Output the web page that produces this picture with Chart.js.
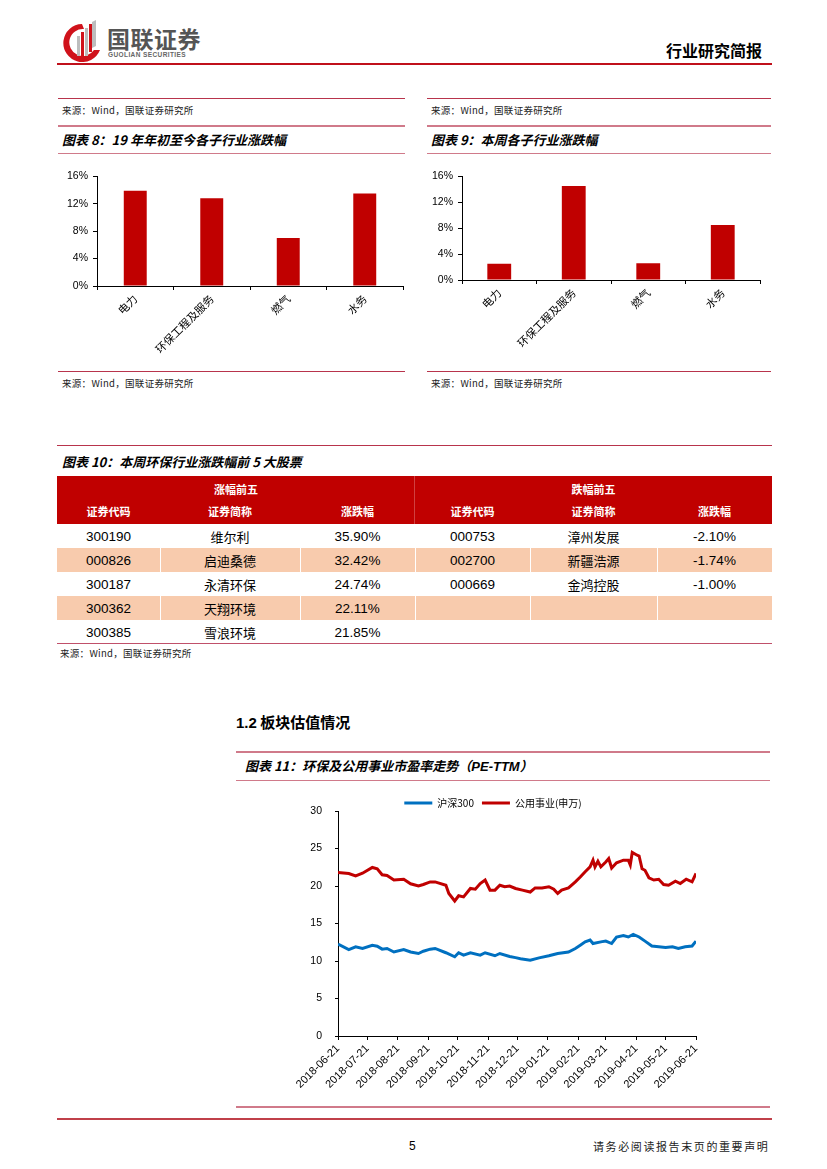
<!DOCTYPE html>
<html><head><meta charset="utf-8">
<script src="https://cdn.jsdelivr.net/npm/chart.js@4.4.0/dist/chart.umd.min.js"></script>
<style>
body{margin:0;background:#fff;}
#page{position:relative;width:827px;height:1169px;overflow:hidden;font-family:"Noto Sans CJK SC","Noto Sans",sans-serif;color:#000;background:#fff;}
.abs{position:absolute;}
.hl{position:absolute;height:0;}
.src{position:absolute;font-size:9.5px;color:#222;line-height:12px;white-space:nowrap;letter-spacing:0.3px;}
.ttl{position:absolute;font-size:13px;font-weight:bold;font-style:italic;line-height:16px;white-space:nowrap;}
canvas{position:absolute;}
.cell{position:absolute;display:flex;align-items:center;justify-content:center;white-space:nowrap;}
</style></head>
<body><div id="page">

<!-- header -->
<svg class="abs" style="left:60px;top:20px" width="46" height="42" viewBox="0 0 46 42">
  <path d="M22 4 A19 19 0 1 0 40 30 L34 30 A13.5 13.5 0 1 1 24 9 Z" fill="#d0121b"/>
  <rect x="17" y="16" width="3" height="20" fill="#bdbdbd"/>
  <rect x="21" y="12" width="3" height="24" fill="#d0121b"/>
  <rect x="25" y="8" width="3" height="28" fill="#bdbdbd"/>
  <rect x="29" y="4" width="3" height="28" fill="#d0121b"/>
  <path d="M32 2 L36 0 L36 26 L32 28 Z" fill="#bdbdbd"/>
</svg>
<div class="abs" style="left:107px;top:24px;font-size:23px;font-weight:bold;color:#555;letter-spacing:0.5px;line-height:28px;">国联证券</div>
<div class="abs" style="left:108px;top:51px;font-size:6.5px;font-weight:bold;color:#666;font-family:Arial,'Liberation Sans';letter-spacing:0.4px;line-height:8px;">GUOLIAN SECURITIES</div>
<div class="abs" style="left:666px;top:40px;font-size:16px;font-weight:bold;line-height:20px;">行业研究简报</div>
<div class="hl" style="left:57px;top:63px;width:715px;border-top:2px solid #c0101b;"></div>

<!-- top source rows -->
<div class="hl" style="left:58px;top:98px;width:347px;border-top:1.5px solid #b8344c;"></div>
<div class="src" style="left:62px;top:104px;">来源：Wind，国联证券研究所</div>
<div class="hl" style="left:427px;top:98px;width:344px;border-top:1.5px solid #b8344c;"></div>
<div class="src" style="left:431px;top:104px;">来源：Wind，国联证券研究所</div>

<!-- chart 8/9 titles -->
<div class="hl" style="left:58px;top:125px;width:347px;border-top:2px solid #d07a8a;"></div>
<div class="ttl" style="left:62px;top:132px;">图表 8：19 年年初至今各子行业涨跌幅</div>
<div class="hl" style="left:58px;top:153px;width:347px;border-top:1.5px solid #d07a8a;"></div>
<div class="hl" style="left:427px;top:125px;width:344px;border-top:2px solid #d07a8a;"></div>
<div class="ttl" style="left:431px;top:132px;">图表 9：本周各子行业涨跌幅</div>
<div class="hl" style="left:427px;top:153px;width:344px;border-top:1.5px solid #d07a8a;"></div>

<canvas id="c8" width="352" height="200" style="left:57px;top:165px;"></canvas>
<canvas id="c9" width="342" height="200" style="left:424px;top:165px;"></canvas>

<div class="hl" style="left:58px;top:371px;width:347px;border-top:1.5px solid #b8344c;"></div>
<div class="src" style="left:62px;top:377px;">来源：Wind，国联证券研究所</div>
<div class="hl" style="left:427px;top:371px;width:344px;border-top:1.5px solid #b8344c;"></div>
<div class="src" style="left:431px;top:377px;">来源：Wind，国联证券研究所</div>

<!-- table 10 -->
<div class="hl" style="left:57px;top:445px;width:715px;border-top:1.5px solid #b8344c;"></div>
<div class="ttl" style="left:62px;top:454px;">图表 10：本周环保行业涨跌幅前 5 大股票</div>
<div id="tbl"></div>
<div class="hl" style="left:57px;top:643px;width:715px;border-top:1.5px solid #c0506a;"></div>
<div class="src" style="left:60px;top:647px;">来源：Wind，国联证券研究所</div>

<!-- section 1.2 -->
<div class="abs" style="left:236px;top:712px;font-size:15px;font-weight:bold;line-height:20px;"><span style="font-family:Arial,'Liberation Sans'">1.2</span> 板块估值情况</div>
<div class="hl" style="left:236px;top:751px;width:534px;border-top:2px solid #d07a8a;"></div>
<div class="ttl" style="left:245px;top:758px;">图表 11：环保及公用事业市盈率走势（<span style="font-family:Arial,'Liberation Sans'">PE-TTM</span>）</div>
<div class="hl" style="left:236px;top:780px;width:534px;border-top:1.5px solid #d07a8a;"></div>

<canvas id="c11" width="420" height="314" style="left:290px;top:786px;"></canvas>

<div class="hl" style="left:236px;top:1106px;width:534px;border-top:2px solid #d07a8a;"></div>
<div class="hl" style="left:57px;top:1118px;width:715px;border-top:2px solid #c0404a;"></div>
<div class="abs" style="left:409px;top:1138px;font-size:12px;font-family:Arial,'Liberation Sans';line-height:16px;">5</div>
<div class="abs" style="left:593px;top:1138px;font-size:11px;letter-spacing:1.6px;line-height:16px;color:#222;">请务必阅读报告末页的重要声明</div>

</div>
<script>
// ---------- data ----------
const sectors = ['电力', '环保工程及服务', '燃气', '水务'];
const ytdChange = [13.9, 12.8, 7.0, 13.5];     // 图表8 (%)
const weekChange = [2.5, 14.5, 2.6, 8.5];      // 图表9 (%)

const gainCodes = ['300190', '000826', '300187', '300362', '300385'];
const gainNames = ['维尔利', '启迪桑德', '永清环保', '天翔环境', '雪浪环境'];
const gainPcts  = ['35.90%', '32.42%', '24.74%', '22.11%', '21.85%'];
const lossCodes = ['000753', '002700', '000669'];
const lossNames = ['漳州发展', '新疆浩源', '金鸿控股'];
const lossPcts  = ['-2.10%', '-1.74%', '-1.00%'];

const peTickLabels = ['2018-06-21','2018-07-21','2018-08-21','2018-09-21','2018-10-21','2018-11-21',
  '2018-12-21','2019-01-21','2019-02-21','2019-03-21','2019-04-21','2019-05-21','2019-06-21'];
// days since 2018-06-21
const hs300Days = [0,11,18,25,35,40,45,50,57,67,74,82,87,94,99,110,119,123,128,135,145,150,160,165,175,181,186,196,205,215,
  224,235,242,247,252,257,260,268,273,279,284,291,296,301,307,313,320,327,334,341,347,354,361,365];
const hs300PE = [12.24,11.53,11.9,11.67,12.1,11.98,11.58,11.67,11.2,11.53,11.2,11.0,11.3,11.58,11.67,11.1,10.56,11.1,10.78,11.1,
  10.78,11.1,10.7,11.0,10.6,10.45,10.3,10.1,10.42,10.7,11.0,11.2,11.67,12.1,12.55,12.8,12.33,12.55,12.65,12.33,
  13.2,13.4,13.2,13.55,13.2,12.65,12.0,11.9,11.8,11.9,11.67,11.9,12.0,12.65];
const utilDays = [0,11,18,25,35,40,45,50,57,67,74,82,87,94,99,110,113,119,123,128,135,140,145,150,155,160,165,170,175,181,
  188,196,201,208,215,220,224,228,235,242,247,252,257,260,262,265,268,273,276,279,284,291,296,298,300,305,307,310,313,317,
  322,327,332,337,344,349,355,361,365];
const utilPE = [21.8,21.67,21.35,21.7,22.47,22.3,21.5,21.4,20.8,20.9,20.3,20.0,20.2,20.55,20.55,20.1,19.0,18.0,18.7,18.55,
  19.67,19.58,20.33,20.8,19.45,19.45,20.1,19.9,20.0,19.67,19.45,19.2,19.75,19.75,19.9,19.58,19.0,19.45,19.75,20.55,
  21.2,21.9,22.55,23.45,22.55,23.3,22.55,23.2,23.67,22.4,23.1,23.45,23.45,22.8,24.47,24.1,24.0,22.3,22.1,21.1,
  20.8,20.9,20.2,20.1,20.65,20.33,20.9,20.55,21.67];

// ---------- table ----------
(function(){
  const tbl = document.getElementById('tbl');
  const cols = [[57,160],[160,300],[300,415],[415,530],[530,657],[657,772]];
  function cell(x0,x1,y0,y1,text,style){
    const d = document.createElement('div');
    d.className = 'cell';
    d.style.left = x0+'px'; d.style.top = y0+'px';
    d.style.width = (x1-x0)+'px'; d.style.height = (y1-y0)+'px';
    Object.assign(d.style, style||{});
    d.textContent = text;
    tbl.appendChild(d);
  }
  cell(57,772,476,524,'',{background:'#c00000'});
  const hdr = {color:'#fff',fontWeight:'bold',fontSize:'11px'};
  cell(57,415,478,500,'涨幅前五',hdr);
  cell(415,772,478,500,'跌幅前五',hdr);
  const sub = ['证券代码','证券简称','涨跌幅','证券代码','证券简称','涨跌幅'];
  sub.forEach((t,i)=>cell(cols[i][0],cols[i][1],500,522,t,hdr));
  cell(414,415,476,524,'',{background:'rgba(255,255,255,0.25)'});
  const num = {fontFamily:"Arial,'Liberation Sans'",fontSize:'13.5px'};
  const cjk = {fontSize:'13px'};
  for (let r=0;r<5;r++){
    const y0 = 524 + r*24, y1 = y0 + 24;
    if (r%2===1){
      cols.forEach(c=>cell(c[0]+(c[0]===57?0:1),c[1],y0,y1,'',{background:'#f8cbad'}));
    }
    cell(cols[0][0],cols[0][1],y0,y1,gainCodes[r],num);
    cell(cols[1][0],cols[1][1],y0,y1,gainNames[r],cjk);
    cell(cols[2][0],cols[2][1],y0,y1,gainPcts[r],num);
    if (r < lossCodes.length){
      cell(cols[3][0],cols[3][1],y0,y1,lossCodes[r],num);
      cell(cols[4][0],cols[4][1],y0,y1,lossNames[r],cjk);
      cell(cols[5][0],cols[5][1],y0,y1,lossPcts[r],num);
    }
  }
})();

// ---------- charts ----------
Chart.defaults.color = '#000';
Chart.defaults.font.family = "Arial, 'Liberation Sans', sans-serif";
Chart.defaults.animation = false;
const RED = '#c00000', BLUE = '#0070c0';

function barChart(id, values, yWidth, xHeight, padRight, barPct){
  new Chart(document.getElementById(id), {
    type: 'bar',
    data: { labels: sectors, datasets: [{ data: values, backgroundColor: RED, borderWidth: 0,
      barPercentage: barPct, categoryPercentage: 1 }] },
    options: {
      responsive: false, devicePixelRatio: 1,
      layout: { padding: { top: 10, right: padRight, left: 0, bottom: 0 } },
      plugins: { legend: { display: false }, tooltip: { enabled: false } },
      scales: {
        x: {
          grid: { display: true, drawOnChartArea: false, drawTicks: true, tickLength: 4, color: '#000', offset: true },
          border: { display: true, color: '#000', width: 1 },
          ticks: { minRotation: 45, maxRotation: 45, autoSkip: false, padding: 2,
            font: { family: "'Noto Sans CJK SC', sans-serif", size: 11 }, color: '#000' },
          afterFit: s => { s.height = xHeight; }
        },
        y: {
          min: 0, max: 16,
          grid: { display: true, drawOnChartArea: false, drawTicks: true, tickLength: 4, color: '#000' },
          border: { display: true, color: '#000', width: 1 },
          ticks: { stepSize: 4, padding: 5, font: { size: 10.5 }, color: '#000', callback: v => v + '%' },
          afterFit: s => { s.width = yWidth; }
        }
      }
    }
  });
}
barChart('c8', ytdChange, 40, 79, 6, 0.3);
barChart('c9', weekChange, 38, 85, 6, 0.32);

const base = Date.UTC(2018, 5, 21);
const peTickDays = peTickLabels.map(s => {
  const [y, m, d] = s.split('-').map(Number);
  return Math.round((Date.UTC(y, m - 1, d) - base) / 86400000);
});
const toPts = (days, vals) => days.map((d, i) => ({ x: d, y: vals[i] }));

new Chart(document.getElementById('c11'), {
  type: 'line',
  data: { datasets: [
    { label: '沪深300', data: toPts(hs300Days, hs300PE), borderColor: BLUE, backgroundColor: BLUE,
      borderWidth: 3, pointRadius: 0, tension: 0 },
    { label: '公用事业(申万)', data: toPts(utilDays, utilPE), borderColor: RED, backgroundColor: RED,
      borderWidth: 3, pointRadius: 0, tension: 0 }
  ]},
  options: {
    responsive: false, devicePixelRatio: 1,
    layout: { padding: { top: 4, right: 14, left: 0, bottom: 0 } },
    plugins: {
      tooltip: { enabled: false },
      legend: { position: 'top', maxHeight: 21, labels: {
        boxWidth: 28, boxHeight: 3, padding: 8, color: '#000',
        font: { family: "'Noto Sans CJK SC', sans-serif", size: 10 },
        generateLabels: chart => Chart.defaults.plugins.legend.labels.generateLabels(chart)
          .map(l => Object.assign(l, { lineWidth: 0 }))
      } }
    },
    scales: {
      x: {
        type: 'linear', min: 0, max: 365,
        afterBuildTicks: s => { s.ticks = peTickDays.map(v => ({ value: v })); },
        grid: { display: true, drawOnChartArea: false, drawTicks: true, tickLength: 4, color: '#000' },
        border: { display: true, color: '#000', width: 1 },
        ticks: { minRotation: 45, maxRotation: 45, autoSkip: false, padding: 2, font: { size: 11 }, color: '#000',
          callback: (v, i) => peTickLabels[i] },
        afterFit: s => { s.height = 64; }
      },
      y: {
        min: 0, max: 30,
        grid: { display: true, drawOnChartArea: false, drawTicks: true, tickLength: 3, color: '#000' },
        border: { display: true, color: '#000', width: 1 },
        ticks: { stepSize: 5, padding: 13, font: { size: 10.5 }, color: '#000' },
        afterFit: s => { s.width = 48; }
      }
    }
  }
});
</script>
</body></html>
